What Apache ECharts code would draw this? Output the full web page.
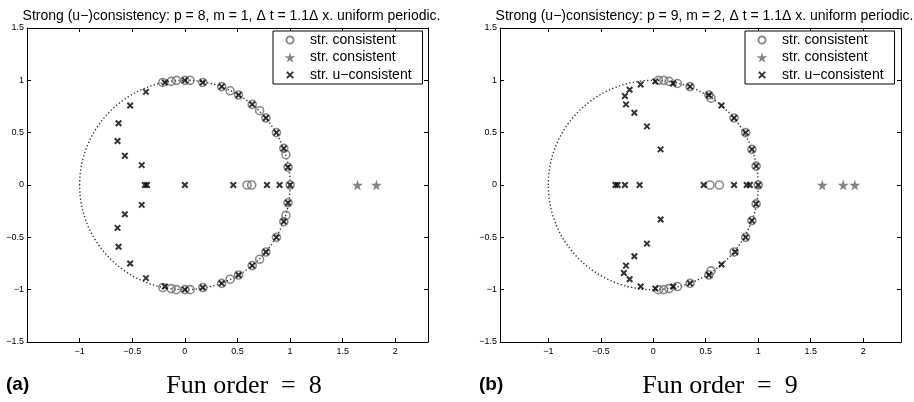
<!DOCTYPE html>
<html><head><meta charset="utf-8">
<script src="https://cdn.jsdelivr.net/npm/echarts@6/dist/echarts.min.js"></script>
<style>html,body{margin:0;padding:0;background:#fff}#c{width:914px;height:402px}</style>
</head><body><div id="c"></div>
<script>
// ---------- text ----------
const titles = [
  'Strong (u\u2212)consistency: p = 8, m = 1, \u0394 t = 1.1\u0394 x. uniform periodic.',
  'Strong (u\u2212)consistency: p = 9, m = 2, \u0394 t = 1.1\u0394 x. uniform periodic.'
];
const panelLabels = ['(a)', '(b)'];
const captions = ['Fun order\u2002=\u20028', 'Fun order\u2002=\u20029'];
const nameCircle = 'str. consistent';
const nameStar = 'str. consistent ';
const nameCross = 'str. u\u2212consistent';

// ---------- ticks ----------
const xTicks = [-1, -0.5, 0, 0.5, 1, 1.5, 2];
const xRangeA = [-1.5, 2.31];
const xRangeB = [-1.46, 2.36];
const yRange = [-1.5, 1.5];
const yInterval = 0.5;
const unitCircle = [[0, 0, 1]];

// ---------- panel (a): p = 8 ----------
const circlesA = [
  [1.00, 0.00], [0.98, 0.17], [0.96, 0.29], [0.94, 0.35], [0.87, 0.50], [0.77, 0.64],
  [0.71, 0.71], [0.64, 0.77], [0.51, 0.86], [0.43, 0.90], [0.35, 0.94], [0.17, 0.98],
  [0.05, 1.00], [0.00, 1.00], [-0.08, 1.00], [-0.13, 0.99], [-0.21, 0.98],
  [0.98, -0.17], [0.96, -0.29], [0.94, -0.35], [0.87, -0.50], [0.77, -0.64],
  [0.71, -0.71], [0.64, -0.77], [0.51, -0.86], [0.43, -0.90], [0.35, -0.94], [0.17, -0.98],
  [0.05, -1.00], [0.00, -1.00], [-0.08, -1.00], [-0.13, -0.99], [-0.21, -0.98],
  [0.59, 0.00], [0.635, 0.00]
];
const starsA = [[1.64, 0.00], [1.82, 0.00]];
const crossesA = [
  [-0.37, 0.89], [-0.52, 0.76], [-0.63, 0.59], [-0.64, 0.42], [-0.57, 0.28], [-0.41, 0.19],
  [-0.37, -0.89], [-0.52, -0.75], [-0.63, -0.59], [-0.64, -0.41], [-0.57, -0.28], [-0.41, -0.19],
  [-0.36, 0.00], [-0.38, 0.00], [0.00, 0.00], [0.46, 0.00], [0.78, 0.00], [0.90, 0.00], [1.00, 0.00],
  [-0.19, 0.98], [0.00, 1.00], [0.17, 0.98], [0.35, 0.94], [0.51, 0.86], [0.64, 0.77],
  [0.77, 0.64], [0.87, 0.50], [0.94, 0.35], [0.98, 0.17],
  [-0.19, -0.97], [0.00, -1.00], [0.17, -0.98], [0.35, -0.94], [0.51, -0.86], [0.64, -0.77],
  [0.77, -0.64], [0.87, -0.50], [0.94, -0.35], [0.98, -0.17]
];

// ---------- panel (b): p = 9 ----------
const circlesB = [
  [1.00, 0.00], [0.98, 0.18], [0.94, 0.34], [0.88, 0.50], [0.77, 0.64], [0.55, 0.83],
  [0.53, 0.86], [0.35, 0.94], [0.23, 0.97], [0.15, 0.99], [0.10, 1.00], [0.05, 1.00],
  [0.98, -0.18], [0.94, -0.34], [0.88, -0.50], [0.77, -0.64], [0.55, -0.82],
  [0.53, -0.86], [0.35, -0.94], [0.23, -0.97], [0.15, -0.99], [0.10, -1.00], [0.05, -1.00],
  [0.54, 0.00], [0.63, 0.00]
];
const starsB = [[1.61, 0.00], [1.81, 0.00], [1.92, 0.00]];
const crossesB = [
  [-0.12, 0.96], [-0.225, 0.91], [-0.27, 0.85], [-0.26, 0.77], [-0.18, 0.69], [-0.06, 0.56], [0.07, 0.34],
  [-0.12, -0.97], [-0.225, -0.90], [-0.28, -0.84], [-0.26, -0.77], [-0.18, -0.68], [-0.06, -0.56], [0.07, -0.33],
  [-0.36, 0.00], [-0.34, 0.00], [-0.27, 0.00], [-0.13, 0.00], [0.48, 0.00], [0.77, 0.00],
  [0.89, 0.00], [0.92, 0.00], [1.00, 0.00],
  [0.02, 0.99], [0.19, 0.97], [0.35, 0.94], [0.53, 0.86], [0.65, 0.76], [0.77, 0.64],
  [0.88, 0.50], [0.94, 0.34], [0.98, 0.18],
  [0.02, -0.99], [0.19, -0.97], [0.35, -0.94], [0.53, -0.86], [0.65, -0.76], [0.78, -0.64],
  [0.88, -0.50], [0.94, -0.34], [0.98, -0.18]
];

// ---------- build ----------
const FONT = 'Liberation Sans, Arial, sans-serif';
const STAR = 'path://M50,0 L61,35 L98,35 L68,57 L79,91 L50,70 L21,91 L32,57 L2,35 L39,35 Z';
const CROSS = 'path://M0,0L10,10M10,0L0,10';
const CROSS_ICON = 'path://M-3,-3M13,13M0,0L10,10M10,0L0,10';
const CIRCLE_ICON = 'path://M-2,-2M12,12M0,5A5,5,0,1,0,10,5A5,5,0,1,0,0,5Z';
const minus = v => String(v).replace('-', '\u2212');

const gridBoxes = [
  {left: 27, top: 28, width: 401, height: 314},
  {left: 500, top: 28, width: 401, height: 314}
];
const xRanges = [xRangeA, xRangeB];
const panelData = [
  {circles: circlesA, stars: starsA, crosses: crossesA},
  {circles: circlesB, stars: starsB, crosses: crossesB}
];
const legendPos = [{left: 273, top: 31}, {left: 745, top: 31}];
const labelPos = [{x: 6, cx: 244}, {x: 479, cx: 720}];

const xAxis = [], yAxis = [], series = [], title = [], legend = [], graphic = [];
const axisLine = {onZero: false, lineStyle: {color: '#000', width: 1}};

gridBoxes.forEach((g, i) => {
  const xr = xRanges[i];
  xAxis.push({
    gridIndex: i, type: 'value', min: xr[0], max: xr[1], position: 'bottom',
    axisLine, splitLine: {show: false},
    axisTick: {inside: true, length: 4, customValues: xTicks, lineStyle: {color: '#000'}},
    axisLabel: {customValues: xTicks, fontSize: 9, fontFamily: FONT, color: '#000', margin: 5, formatter: minus}
  });
  xAxis.push({
    gridIndex: i, type: 'value', min: xr[0], max: xr[1], position: 'top',
    axisLine, splitLine: {show: false},
    axisTick: {inside: true, length: 4, customValues: xTicks, lineStyle: {color: '#000'}},
    axisLabel: {show: false}
  });
  yAxis.push({
    gridIndex: i, type: 'value', min: yRange[0], max: yRange[1], interval: yInterval, position: 'left',
    axisLine, splitLine: {show: false},
    axisTick: {inside: true, length: 4, lineStyle: {color: '#000'}},
    axisLabel: {fontSize: 9, fontFamily: FONT, color: '#000', margin: 3, formatter: minus}
  });
  yAxis.push({
    gridIndex: i, type: 'value', min: yRange[0], max: yRange[1], interval: yInterval, position: 'right',
    axisLine, splitLine: {show: false},
    axisTick: {inside: true, length: 4, lineStyle: {color: '#000'}},
    axisLabel: {show: false}
  });
  const xi = i * 2, yi = i * 2;
  series.push({
    type: 'custom', xAxisIndex: xi, yAxisIndex: yi, data: unitCircle, silent: true,
    renderItem: (params, api) => {
      const c = api.coord([api.value(0), api.value(1)]);
      const s = api.size([api.value(2), api.value(2)]);
      return {type: 'ellipse', shape: {cx: c[0], cy: c[1], rx: s[0], ry: s[1]},
        style: {fill: 'none', stroke: '#333', lineWidth: 1.4, lineDash: [1.3, 2.3]}};
    }
  });
  const d = panelData[i];
  series.push({
    type: 'scatter', name: nameCircle, xAxisIndex: xi, yAxisIndex: yi, data: d.circles,
    symbol: 'circle', symbolSize: 8,
    itemStyle: {color: 'rgba(255,255,255,0)', borderColor: '#6e6e6e', borderWidth: 1.6}
  });
  series.push({
    type: 'scatter', name: nameStar, xAxisIndex: xi, yAxisIndex: yi, data: d.stars,
    symbol: STAR, symbolSize: 11, itemStyle: {color: '#666'}
  });
  series.push({
    type: 'scatter', name: nameCross, xAxisIndex: xi, yAxisIndex: yi, data: d.crosses,
    symbol: CROSS, symbolSize: 5.5,
    itemStyle: {color: 'rgba(0,0,0,0)', borderColor: '#000', borderWidth: 2}
  });
  title.push({
    text: titles[i], left: g.left + g.width / 2 - 1, top: 4, textAlign: 'center',
    textStyle: {fontSize: 14, fontWeight: 'normal', fontFamily: FONT, color: '#000'}
  });
  legend.push({
    orient: 'vertical', left: legendPos[i].left, top: legendPos[i].top,
    data: [{name: nameCircle, icon: CIRCLE_ICON}, {name: nameStar}, {name: nameCross, icon: CROSS_ICON}],
    selectedMode: false,
    itemWidth: 30, itemHeight: 10, itemGap: 1.5,
    padding: [1, 11, 1, 11],
    backgroundColor: '#fff', borderColor: '#000', borderWidth: 1, borderRadius: 0,
    textStyle: {fontSize: 14, fontFamily: FONT, color: '#000', lineHeight: 16}
  });
  graphic.push({
    type: 'text', left: labelPos[i].x, top: 375,
    style: {text: panelLabels[i], font: 'bold 19px ' + FONT, fill: '#000'}
  });
  graphic.push({
    type: 'text', x: labelPos[i].cx, y: 386,
    style: {text: captions[i], font: '26px Liberation Serif, Times New Roman, serif', fill: '#000',
      textAlign: 'center', textVerticalAlign: 'middle'}
  });
});

const chart = echarts.init(document.getElementById('c'), null, {renderer: 'canvas'});
chart.setOption({
  animation: false, backgroundColor: '#fff',
  title, legend, grid: gridBoxes, xAxis, yAxis, series, graphic
});
</script></body></html>
